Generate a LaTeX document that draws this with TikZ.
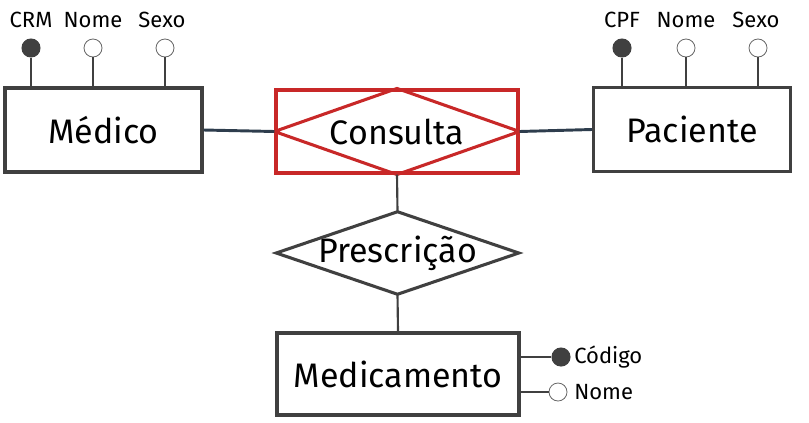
\documentclass[tikz,border=0pt]{standalone}
\usepackage{fontspec}
\setmainfont{Fira Sans}
\usetikzlibrary{positioning}
\definecolor{edge}{HTML}{404040}
\definecolor{link}{HTML}{2E3D4D}
\definecolor{weak}{HTML}{C82828}

\begin{document}
\begin{tikzpicture}[x=0.75pt, y=-0.75pt,
    ent/.style={draw=edge, line width=2.3pt, fill=white, inner sep=0pt,
                minimum width=147.75pt, minimum height=63pt, font=\fontsize{25.5}{28}\selectfont},
    rel/.style={inner sep=0pt, minimum width=181.5pt, minimum height=61.5pt,
                font=\fontsize{25.5}{28}\selectfont},
    key/.style={draw=edge, fill=edge, circle, line width=0.8pt, inner sep=0pt, minimum size=13.5pt},
    att/.style={key, fill=white, draw=edge!80, line width=0.6pt},
    lbl/.style={inner sep=0pt, font=\fontsize{16.5}{18}\selectfont},
    stem/.style={draw=edge, line width=1.6pt},
    conn/.style={draw=link, line width=2.2pt}]
  \useasboundingbox (0,0) rectangle (809,422);

  % entities
  \node[ent] (medico) at (103.5,130) {Médico};
  \node[ent] (paciente) at (692,129.5) {Paciente};
  \node[ent, minimum width=181.5pt, minimum height=61.5pt] (medicamento) at (398,374) {Medicamento};

  % relationships
  \node[rel, draw=weak, line width=2.3pt, minimum height=62.25pt] (consulta) at (397,131.5) {Consulta};
  \draw[weak, line width=2.3pt, line join=miter]
    (consulta.west) -- (consulta.north) -- (consulta.east) -- (consulta.south) -- cycle;
  \node[rel] (prescricao) at (397.5,253) {Prescrição};
  \draw[edge, line width=2.3pt, line join=miter]
    (prescricao.west) -- (prescricao.north) -- (prescricao.east) -- (prescricao.south) -- cycle;

  % connectors
  \draw[conn] (medico.east) -- (consulta.west);
  \draw[conn] (consulta.east) -- (paciente.west);
  \draw[stem] (consulta.south) -- (prescricao.north);
  \draw[stem] (prescricao.south) -- (medicamento.north);

  % attributes of Médico
  \node[key] (crm) at (31,48) {};
  \node[att] (mnome) at (93,48) {};
  \node[att] (msexo) at (165,48) {};
  \node[lbl] (crml) at (31,20) {CRM};
  \node[lbl] (mnomel) at (93,20) {Nome};
  \node[lbl] (msexol) at (162,20) {Sexo};
  \draw[stem] (crm) -- (crm |- medico.north);
  \draw[stem] (mnome) -- (mnome |- medico.north);
  \draw[stem] (msexo) -- (msexo |- medico.north);

  % attributes of Paciente
  \node[key] (cpf) at (622,48) {};
  \node[att] (pnome) at (686,48) {};
  \node[att] (psexo) at (758,48) {};
  \node[lbl] (cpfl) at (622,20) {CPF};
  \node[lbl] (pnomel) at (686,20) {Nome};
  \node[lbl] (psexol) at (756,20) {Sexo};
  \draw[stem] (cpf) -- (cpf |- paciente.north);
  \draw[stem] (pnome) -- (pnome |- paciente.north);
  \draw[stem] (psexo) -- (psexo |- paciente.north);

  % attributes of Medicamento
  \node[key] (codigo) at (561,357) {};
  \node[att] (dnome) at (558,392) {};
  \node[lbl, anchor=west] (codigol) at (574,357) {Código};
  \node[lbl, anchor=west] (dnomel) at (574,392) {Nome};
  \draw[stem] (codigo) -- (codigo -| medicamento.east);
  \draw[stem] (dnome) -- (dnome -| medicamento.east);
\end{tikzpicture}
\end{document}
